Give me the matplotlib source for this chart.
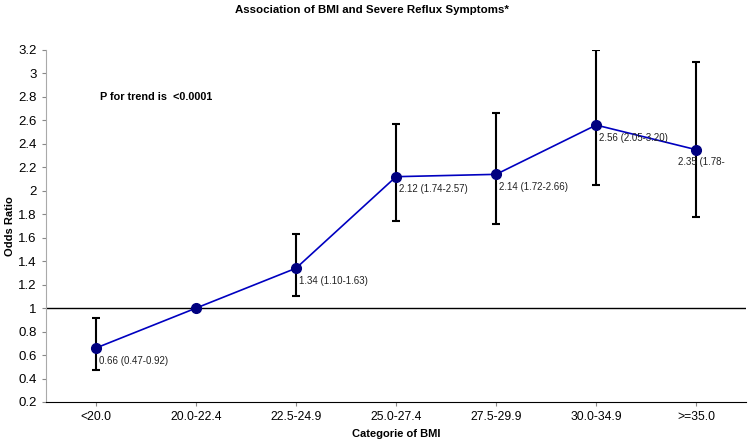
import matplotlib.pyplot as plt

plt.rcParams['font.family'] = ['Liberation Sans', 'DejaVu Sans']

categories = ['<20.0', '20.0-22.4', '22.5-24.9', '25.0-27.4', '27.5-29.9', '30.0-34.9', '>=35.0']
odds = [0.66, 1.00, 1.34, 2.12, 2.14, 2.56, 2.35]
lower = [0.47, 1.00, 1.10, 1.74, 1.72, 2.05, 1.78]
upper = [0.92, 1.00, 1.63, 2.57, 2.66, 3.20, 3.10]
labels = ['0.66 (0.47-0.92)', '', '1.34 (1.10-1.63)', '2.12 (1.74-2.57)',
          '2.14 (1.72-2.66)', '2.56 (2.05-3.20)', '2.35 (1.78-']
yticks = [0.2, 0.4, 0.6, 0.8, 1, 1.2, 1.4, 1.6, 1.8, 2, 2.2, 2.4, 2.6, 2.8, 3, 3.2]

fig = plt.figure(figsize=(7.53, 4.42), dpi=100)
ax = fig.add_axes([0.061, 0.0905, 0.93, 0.7965])

x = list(range(len(categories)))
err_lo = [o - l for o, l in zip(odds, lower)]
err_hi = [u - o for o, u in zip(odds, upper)]

ax.axhline(1, color='black', linewidth=1, zorder=1)
ax.errorbar(x, odds, yerr=[err_lo, err_hi], fmt='none', ecolor='black',
            elinewidth=1.5, capsize=2.8, capthick=1.5, zorder=2)
ax.plot(x, odds, color='#0000C0', linewidth=1.2, marker='o', markersize=7,
        markerfacecolor='#000080', markeredgecolor='#000080', zorder=3)

for i, (o, t) in enumerate(zip(odds, labels)):
    if not t:
        continue
    dx = -13 if i == len(odds) - 1 else 2
    ax.annotate(t, (i, o), xytext=(dx, -9), textcoords='offset points',
                fontsize=7, color='#222222', va='center', ha='left')

ax.text(0.04, 2.8, 'P for trend is  <0.0001', fontsize=7.8, fontweight='bold',
        va='center', ha='left')

ax.set_xlim(-0.5, 6.5)
ax.set_ylim(0.2, 3.2)
ax.set_xticks(x)
ax.set_xticklabels(categories, fontsize=8.7)
ax.set_yticks(yticks)
ax.set_yticklabels([f'{v:g}' for v in yticks], fontsize=9.5)
ax.tick_params(axis='both', direction='out', length=3, color='#888888')

ax.spines['top'].set_visible(False)
ax.spines['right'].set_visible(False)
ax.spines['left'].set_color('#aaaaaa')
ax.spines['bottom'].set_color('black')

ax.set_xlabel('Categorie of BMI', fontsize=8, fontweight='bold', labelpad=4)
ax.set_ylabel('Odds Ratio', fontsize=8, fontweight='bold')
ax.yaxis.set_label_coords(-0.0443, 0.5)

fig.text(0.4934, 0.977, 'Association of BMI and Severe Reflux Symptoms*',
         fontsize=8.25, fontweight='bold', ha='center', va='center')

fig.savefig('out.png', dpi=100)
